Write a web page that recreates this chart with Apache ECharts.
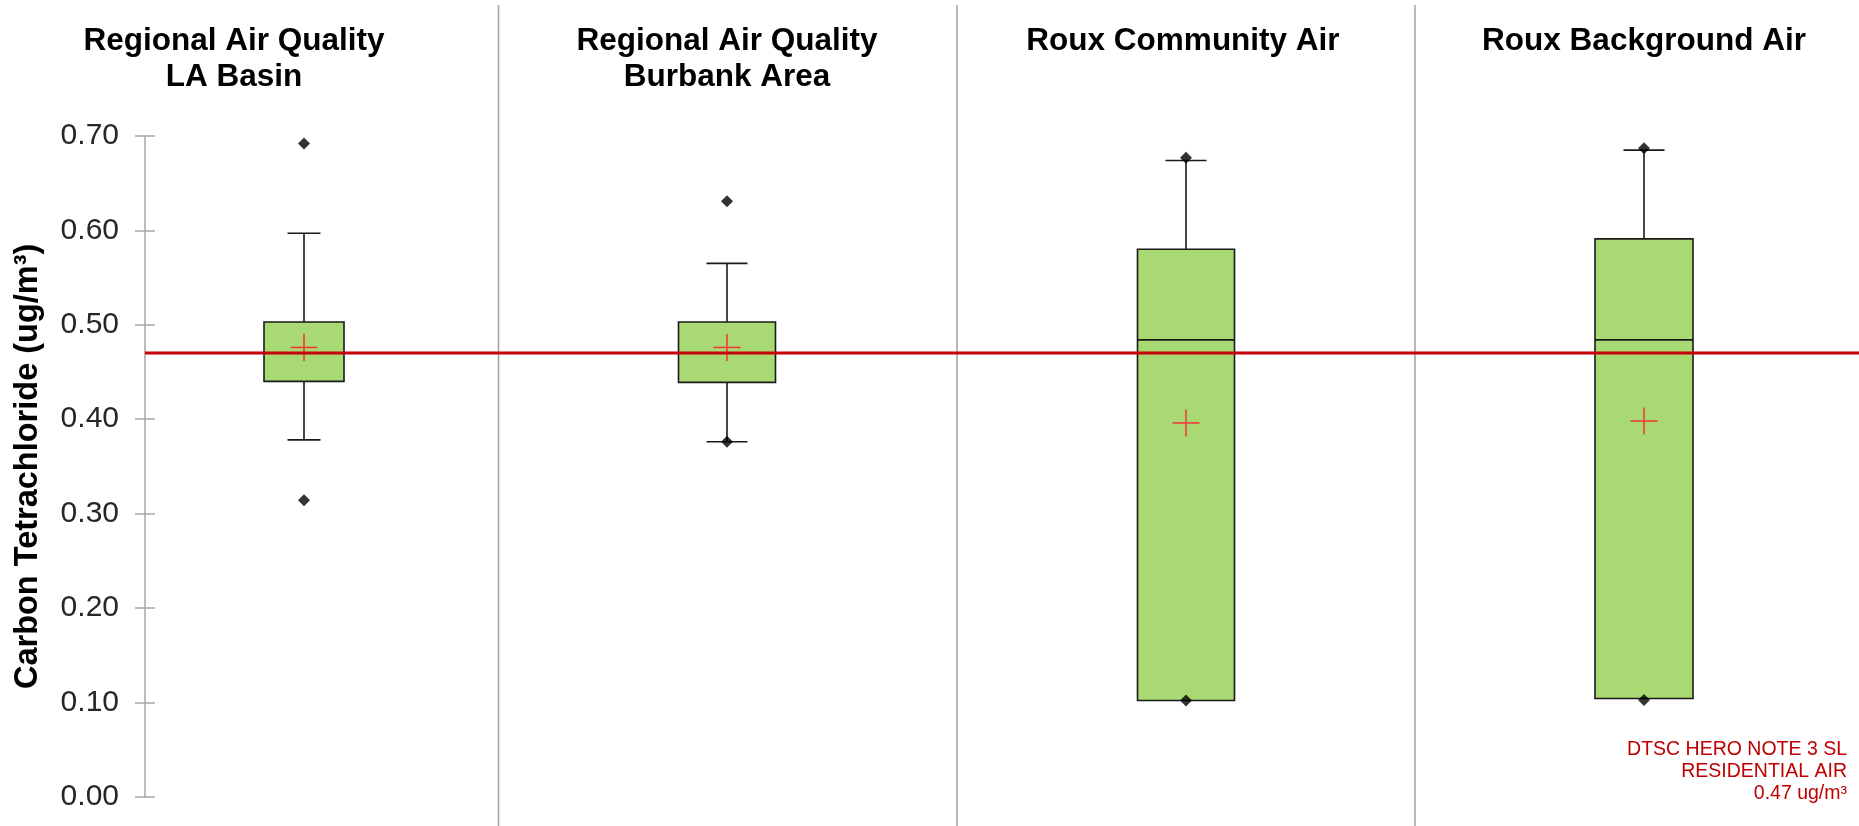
<!DOCTYPE html>
<html>
<head>
<meta charset="utf-8">
<script src="https://cdn.jsdelivr.net/npm/echarts@6/dist/echarts.min.js"></script>
<style>
  html, body { margin: 0; padding: 0; background: #ffffff; }
  #chart { width: 1859px; height: 826px; }
</style>
</head>
<body>
<div id="chart"></div>
<script>
// ---- data ----
const categories = ['Regional Air Quality\nLA Basin', 'Regional Air Quality\nBurbank Area', 'Roux Community Air', 'Roux Background Air'];
const whiskerLow  = [0.378, 0.376, 0.102, 0.104];
const q1Vals      = [0.440, 0.439, 0.102, 0.104];
const medianVals  = [0.470, 0.470, 0.484, 0.484];
const q3Vals      = [0.503, 0.503, 0.580, 0.591];
const whiskerHigh = [0.597, 0.565, 0.674, 0.685];
const meanVals    = [0.476, 0.476, 0.396, 0.398];
const maxPoints   = [0.692, 0.631, 0.677, 0.687];
const minPoints   = [0.314, 0.376, 0.102, 0.1025];
const yTicks = { min: 0, max: 0.7, interval: 0.1 };
const refValue = 0.47;
const refLabel = 'DTSC HERO NOTE 3 SL\nRESIDENTIAL AIR\n0.47 ug/m\u00B3';
const yTitle = 'Carbon Tetrachloride (ug/m\u00B3)';

// ---- layout / style ----
const FONT = '"Liberation Sans", Arial, Helvetica, sans-serif';
const gridsPx = [
  { left: 145, width: 318 },
  { left: 498, width: 458 },
  { left: 957, width: 458 },
  { left: 1429, width: 430 }
];
const titleCenters = [234, 727, 1183, 1644];
const boxW = [80, 97, 97, 98];
const capW = [33, 41, 41, 41];
const crossW = 27;
const TOP = 136, BOTTOM = 29.3;

function makeRender(i) {
  return function (params, api) {
    const x = api.value(0);
    const lo = api.coord([x, api.value(1)]);
    const q1 = api.coord([x, api.value(2)]);
    const md = api.coord([x, api.value(3)]);
    const q3 = api.coord([x, api.value(4)]);
    const hi = api.coord([x, api.value(5)]);
    const mn = api.coord([x, api.value(6)]);
    const cx = q1[0];
    const ls = { stroke: '#1a1a1a', lineWidth: 1.6, fill: null };
    const bw = boxW[i], cw = capW[i];
    const children = [];
    if (Math.abs(hi[1] - q3[1]) > 0.5) {
      children.push({ type: 'line', shape: { x1: cx, y1: hi[1], x2: cx, y2: q3[1] }, style: ls });
      children.push({ type: 'line', shape: { x1: cx - cw / 2, y1: hi[1], x2: cx + cw / 2, y2: hi[1] }, style: ls });
    }
    if (Math.abs(lo[1] - q1[1]) > 0.5) {
      children.push({ type: 'line', shape: { x1: cx, y1: lo[1], x2: cx, y2: q1[1] }, style: ls });
      children.push({ type: 'line', shape: { x1: cx - cw / 2, y1: lo[1], x2: cx + cw / 2, y2: lo[1] }, style: ls });
    }
    children.push({ type: 'rect', shape: { x: cx - bw / 2, y: q3[1], width: bw, height: q1[1] - q3[1] },
      style: { fill: '#a8d973', stroke: '#1a1a1a', lineWidth: 1.6 } });
    children.push({ type: 'line', shape: { x1: cx - bw / 2, y1: md[1], x2: cx + bw / 2, y2: md[1] }, style: ls });
    const rs = { stroke: '#f03c3c', lineWidth: 1.6, fill: null };
    children.push({ type: 'line', shape: { x1: cx - crossW / 2, y1: mn[1], x2: cx + crossW / 2, y2: mn[1] }, style: rs });
    children.push({ type: 'line', shape: { x1: cx, y1: mn[1] - crossW / 2, x2: cx, y2: mn[1] + crossW / 2 }, style: rs });
    return { type: 'group', children: children };
  };
}

const grids = [], xAxes = [], yAxes = [], series = [];
for (let i = 0; i < 4; i++) {
  grids.push({ left: gridsPx[i].left, width: gridsPx[i].width, top: TOP, bottom: BOTTOM });
  xAxes.push({ type: 'category', gridIndex: i, data: [categories[i]], show: false });
  yAxes.push({
    type: 'value', gridIndex: i, min: yTicks.min, max: yTicks.max, interval: yTicks.interval,
    show: i === 0,
    axisLine: { show: true, lineStyle: { color: '#a6a6a6', width: 1.5 } },
    axisTick: { show: true, length: 10, lineStyle: { color: '#a6a6a6', width: 1.5 } },
    axisLabel: { show: true, margin: 26, fontSize: 30, color: '#262626', fontFamily: FONT,
      formatter: function (v) { return v.toFixed(2); } },
    splitLine: { show: false },
    name: i === 0 ? yTitle : '',
    nameLocation: 'middle', nameGap: 100,
    nameTextStyle: { fontSize: 32.5, fontWeight: 'bold', color: '#000', fontFamily: FONT }
  });
  series.push({
    type: 'custom', xAxisIndex: i, yAxisIndex: i, z: 2,
    renderItem: makeRender(i),
    encode: { x: 0, y: [1, 2, 3, 4, 5, 6] },
    data: [[0, whiskerLow[i], q1Vals[i], medianVals[i], q3Vals[i], whiskerHigh[i], meanVals[i]]]
  });
  series.push({
    type: 'scatter', xAxisIndex: i, yAxisIndex: i, z: 4,
    symbol: 'diamond', symbolSize: 12,
    itemStyle: { color: '#000' },
    data: [[0, maxPoints[i]], [0, minPoints[i]]]
  });
}
// reference line grid spanning the whole width
grids.push({ left: 145, right: 0, top: TOP, bottom: BOTTOM });
xAxes.push({ type: 'value', gridIndex: 4, min: 0, max: 1, show: false });
yAxes.push({ type: 'value', gridIndex: 4, min: yTicks.min, max: yTicks.max, show: false });
series.push({
  type: 'line', xAxisIndex: 4, yAxisIndex: 4, z: 3, symbol: 'none', silent: true,
  lineStyle: { color: '#c8000a', width: 3 },
  data: [[0, refValue], [1, refValue]]
});
// inner ticks for the crossing tick marks on the first axis
yAxes.push({
  type: 'value', gridIndex: 0, min: yTicks.min, max: yTicks.max, interval: yTicks.interval,
  axisLine: { show: false },
  axisTick: { show: true, inside: true, length: 10, lineStyle: { color: '#a6a6a6', width: 1.5 } },
  axisLabel: { show: false }, splitLine: { show: false }, position: 'left'
});

const graphics = [];
[498.5, 957, 1415].forEach(function (x) {
  graphics.push({ type: 'line', shape: { x1: x, y1: 5, x2: x, y2: 826 },
    style: { stroke: '#a0a0a0', lineWidth: 1.5 }, z: 0 });
});
categories.forEach(function (c, i) {
  graphics.push({ type: 'text', x: titleCenters[i], y: 23.4,
    style: { text: c, textAlign: 'center', textVerticalAlign: 'top',
      font: 'bold 31.5px ' + FONT, lineHeight: 36, fill: '#000' } });
});
graphics.push({ type: 'text', x: 1847, y: 738.3,
  style: { text: refLabel, textAlign: 'right', textVerticalAlign: 'top',
    font: '19.5px ' + FONT, lineHeight: 22, fill: '#c00000' } });

const chart = echarts.init(document.getElementById('chart'), null, { renderer: 'canvas' });
chart.setOption({
  animation: false,
  backgroundColor: '#ffffff',
  grid: grids, xAxis: xAxes, yAxis: yAxes, series: series,
  graphic: graphics
});
</script>
</body>
</html>
